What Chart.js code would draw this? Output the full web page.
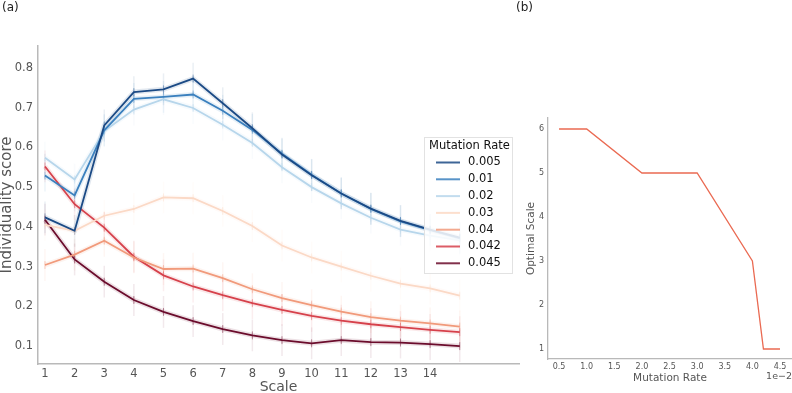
<!DOCTYPE html>
<html>
<head>
<meta charset="utf-8">
<script src="https://cdn.jsdelivr.net/npm/chart.js@4.4.1/dist/chart.umd.min.js"></script>
<style>
  html, body { margin: 0; padding: 0; background: #fff; overflow: hidden; }
  #wrap { position: relative; width: 792px; height: 393px; }
  canvas { position: absolute; left: 0; top: 0; }
</style>
</head>
<body>
<div id="wrap">
  <canvas id="scoreChart" width="792" height="393"></canvas>
  <canvas id="optimalChart" width="792" height="393"></canvas>
</div>
<script>
// Panel (a): individuality score per scale, one series per mutation rate
const scales = [1, 2, 3, 4, 5, 6, 7, 8, 9, 10, 11, 12, 13, 14, 15];
const mutationLabels = ["0.005", "0.01", "0.02", "0.03", "0.04", "0.042", "0.045"];
const rate005 = [0.424, 0.390, 0.655, 0.739, 0.746, 0.773, 0.711, 0.648, 0.582, 0.530, 0.484, 0.446, 0.415, 0.393, 0.373];
const rate01  = [0.529, 0.479, 0.643, 0.722, 0.727, 0.733, 0.692, 0.644, 0.584, 0.531, 0.484, 0.445, 0.414, 0.392, 0.371];
const rate02  = [0.574, 0.519, 0.641, 0.695, 0.721, 0.699, 0.657, 0.611, 0.550, 0.500, 0.459, 0.423, 0.393, 0.378, 0.366];
const rate03  = [0.405, 0.390, 0.428, 0.445, 0.474, 0.472, 0.440, 0.402, 0.353, 0.323, 0.300, 0.277, 0.257, 0.245, 0.227];
const rate04  = [0.304, 0.330, 0.365, 0.323, 0.294, 0.295, 0.271, 0.243, 0.221, 0.203, 0.187, 0.173, 0.164, 0.157, 0.149];
const rate042 = [0.552, 0.457, 0.398, 0.325, 0.278, 0.250, 0.228, 0.208, 0.191, 0.176, 0.164, 0.155, 0.148, 0.141, 0.135];
const rate045 = [0.418, 0.318, 0.262, 0.216, 0.186, 0.163, 0.143, 0.127, 0.115, 0.107, 0.115, 0.110, 0.109, 0.105, 0.100];
const scoreTicks = [0.1, 0.2, 0.3, 0.4, 0.5, 0.6, 0.7, 0.8];
const scaleTicks = [1, 2, 3, 4, 5, 6, 7, 8, 9, 10, 11, 12, 13, 14, 15, 16, 17];
const scaleTickLabels = ["1", "2", "3", "4", "5", "6", "7", "8", "9", "10", "11", "12", "13", "14", "", "", ""];

// Panel (b): optimal scale per mutation rate
const rates = [0.005, 0.01, 0.02, 0.03, 0.04, 0.042, 0.045];
const optimalScale = [6, 6, 5, 5, 3, 1, 1];
const rateTicks = [0.005, 0.01, 0.015, 0.02, 0.025, 0.03, 0.035, 0.04, 0.045];
const optimalTicks = [1, 2, 3, 4, 5, 6];

const colors = ["#1b4a85", "#3b80be", "#b7d6eb", "#fbd9c6", "#f19a7b", "#d6414b", "#6b0c2c"];
const seriesValues = [rate005, rate01, rate02, rate03, rate04, rate042, rate045];
const FONT = "'DejaVu Sans', sans-serif";
const AXIS_GREY = "#b9b9b9";
const TEXT_GREY = "#555";

// faint confidence band + vertical spread of runs behind each line
const spreadPlugin = {
    id: "spread",
    beforeDatasetsDraw(chart) {
        const { ctx } = chart;
        const x = chart.scales.x, y = chart.scales.y;
        ctx.save();
        chart.data.datasets.forEach((ds) => {
            ctx.strokeStyle = ds.borderColor;
            // vertical strips
            ds.data.forEach((p) => {
                const px = x.getPixelForValue(p.x);
                ctx.globalAlpha = 0.09;
                ctx.lineWidth = 1.5;
                ctx.beginPath();
                ctx.moveTo(px, y.getPixelForValue(p.y + 0.04));
                ctx.lineTo(px, y.getPixelForValue(p.y - 0.04));
                ctx.stroke();
                ctx.globalAlpha = 0.45;
                ctx.lineWidth = 1;
                ctx.beginPath();
                ctx.moveTo(px, y.getPixelForValue(p.y + 0.01));
                ctx.lineTo(px, y.getPixelForValue(p.y - 0.01));
                ctx.stroke();
            });
            // band
            ctx.globalAlpha = 0.12;
            ctx.lineWidth = 5;
            ctx.lineJoin = "round";
            ctx.beginPath();
            ds.data.forEach((p, i) => {
                const px = x.getPixelForValue(p.x), py = y.getPixelForValue(p.y);
                if (i === 0) ctx.moveTo(px, py); else ctx.lineTo(px, py);
            });
            ctx.stroke();
        });
        ctx.restore();
    },
};

// boxed legend drawn inside the plot, like matplotlib
const boxLegendPlugin = {
    id: "boxLegend",
    afterDraw(chart) {
        const { ctx } = chart;
        const left = 424, top = 137, w = 89, h = 137;
        ctx.save();
        ctx.globalAlpha = 0.85;
        ctx.fillStyle = "#fff";
        ctx.fillRect(left, top, w, h);
        ctx.globalAlpha = 1;
        ctx.strokeStyle = "#e2e2e2";
        ctx.lineWidth = 1;
        ctx.strokeRect(left + 0.5, top + 0.5, w - 1, h - 1);
        ctx.fillStyle = "#111";
        ctx.textBaseline = "middle";
        ctx.font = "11.5px " + FONT;
        ctx.fillText("Mutation Rate", 429, 146);
        chart.data.datasets.forEach((ds, i) => {
            const yy = 162.5 + i * 16.8;
            ctx.strokeStyle = ds.borderColor;
            ctx.globalAlpha = 0.85;
            ctx.lineWidth = 2;
            ctx.beginPath();
            ctx.moveTo(436, yy);
            ctx.lineTo(460, yy);
            ctx.stroke();
            ctx.globalAlpha = 1;
            ctx.fillStyle = "#111";
            ctx.font = "11.5px " + FONT;
            ctx.fillText(ds.label, 468, yy);
        });
        ctx.fillStyle = "#222";
        ctx.font = "12px " + FONT;
        ctx.fillText("(a)", 2, 8);
        ctx.restore();
    },
};

new Chart(document.getElementById("scoreChart").getContext("2d"), {
    type: "line",
    data: {
        datasets: mutationLabels.map((label, i) => ({
            label: label,
            data: scales.map((s, j) => ({ x: s, y: seriesValues[i][j] })),
            borderColor: colors[i],
            backgroundColor: colors[i],
            borderWidth: 1.8,
            pointRadius: 0,
            tension: 0,
        })),
    },
    options: {
        responsive: false,
        animation: false,
        layout: { padding: { left: 0, top: 46, right: 273, bottom: 0 } },
        plugins: { legend: { display: false }, tooltip: { enabled: false } },
        scales: {
            x: {
                type: "linear",
                min: 0.764,
                max: 17,
                afterBuildTicks: (scale) => { scale.ticks = scaleTicks.map((v) => ({ value: v })); },
                afterFit: (scale) => { scale.height = 29; },
                ticks: {
                    color: TEXT_GREY,
                    font: { family: FONT, size: 11.5 },
                    padding: 0,
                    maxRotation: 0,
                    autoSkip: false,
                    callback: (v, i) => scaleTickLabels[i],
                },
                grid: { display: false, drawTicks: true, tickLength: 3, tickColor: AXIS_GREY },
                border: { color: AXIS_GREY, width: 1.5 },
                title: {
                    display: true,
                    text: "Scale",
                    color: TEXT_GREY,
                    font: { family: FONT, size: 14, lineHeight: 0.8 },
                    padding: 0,
                },
            },
            y: {
                type: "linear",
                min: 0.055,
                max: 0.855,
                afterBuildTicks: (scale) => { scale.ticks = scoreTicks.map((v) => ({ value: v })); },
                afterFit: (scale) => { scale.width = 38; },
                ticks: {
                    color: TEXT_GREY,
                    font: { family: FONT, size: 11.5 },
                    padding: 2,
                    callback: (v) => v.toFixed(1),
                },
                grid: { display: false, drawTicks: true, tickLength: 3, tickColor: AXIS_GREY },
                border: { color: AXIS_GREY, width: 1.5 },
                title: {
                    display: true,
                    text: "Individuality score",
                    color: TEXT_GREY,
                    font: { family: FONT, size: 15, lineHeight: 1 },
                    padding: { top: 0, bottom: 0 },
                },
            },
        },
    },
    plugins: [spreadPlugin, boxLegendPlugin],
});

const panelBTextPlugin = {
    id: "panelBText",
    afterDraw(chart) {
        const { ctx } = chart;
        ctx.save();
        ctx.fillStyle = "#222";
        ctx.textBaseline = "middle";
        ctx.font = "12px " + FONT;
        ctx.fillText("(b)", 516, 8);
        ctx.fillStyle = TEXT_GREY;
        ctx.font = "9.5px " + FONT;
        ctx.textAlign = "right";
        ctx.fillText("1e\u22122", 792, 377);
        ctx.restore();
    },
};

new Chart(document.getElementById("optimalChart").getContext("2d"), {
    type: "line",
    data: {
        datasets: [{
            label: "Optimal Scale",
            data: rates.map((r, i) => ({ x: r, y: optimalScale[i] })),
            borderColor: "#ea6a52",
            borderWidth: 1.3,
            pointRadius: 0,
            tension: 0,
        }],
    },
    options: {
        responsive: false,
        animation: false,
        layout: { padding: { left: 520, top: 118, right: 0, bottom: 0 } },
        plugins: { legend: { display: false }, tooltip: { enabled: false } },
        scales: {
            x: {
                type: "linear",
                min: 0.0030,
                max: 0.04717,
                afterBuildTicks: (scale) => { scale.ticks = rateTicks.map((v) => ({ value: v })); },
                afterFit: (scale) => { scale.height = 34; },
                ticks: {
                    color: TEXT_GREY,
                    font: { family: FONT, size: 8 },
                    padding: 0,
                    maxRotation: 0,
                    autoSkip: false,
                    callback: (v) => (v * 100).toFixed(1),
                },
                grid: { display: false, drawTicks: true, tickLength: 3, tickColor: AXIS_GREY },
                border: { color: AXIS_GREY, width: 1.3 },
                title: {
                    display: true,
                    text: "Mutation Rate",
                    color: TEXT_GREY,
                    font: { family: FONT, size: 10.5, lineHeight: 1.2 },
                    padding: { top: 0, bottom: 8.5 },
                },
            },
            y: {
                type: "linear",
                min: 0.773,
                max: 6.25,
                afterBuildTicks: (scale) => { scale.ticks = optimalTicks.map((v) => ({ value: v })); },
                afterFit: (scale) => { scale.width = 28; },
                ticks: {
                    color: TEXT_GREY,
                    font: { family: FONT, size: 8 },
                    padding: 1,
                },
                grid: { display: false, drawTicks: true, tickLength: 3, tickColor: AXIS_GREY },
                border: { color: AXIS_GREY, width: 1.3 },
                title: {
                    display: true,
                    text: "Optimal Scale",
                    color: TEXT_GREY,
                    font: { family: FONT, size: 10.5, lineHeight: 1.2 },
                    padding: { top: 4.7, bottom: 0 },
                },
            },
        },
    },
    plugins: [panelBTextPlugin],
});
</script>
</body>
</html>
